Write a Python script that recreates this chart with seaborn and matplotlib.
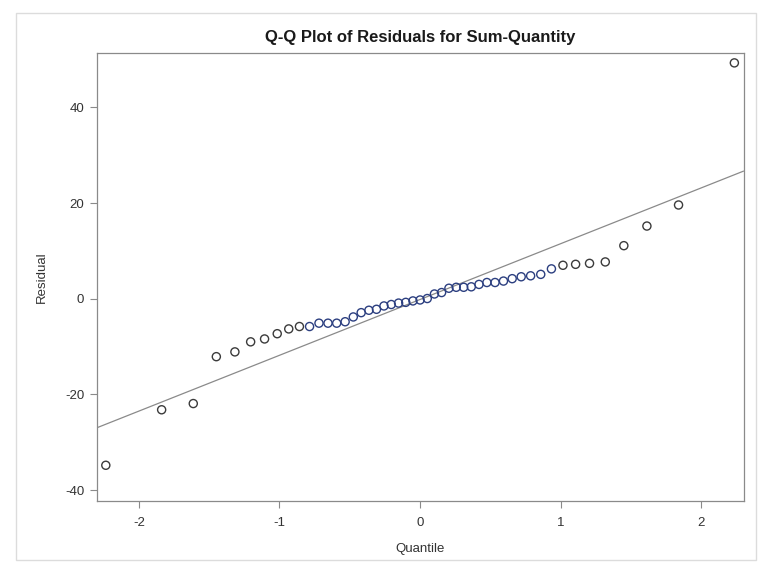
import numpy as np
import pandas as pd
import matplotlib
matplotlib.use("Agg")
import matplotlib.pyplot as plt
import seaborn as sns

# Normal quantiles (Blom) for the 49 sorted residuals
quantiles = [-2.235, -1.838, -1.613, -1.449, -1.317, -1.205, -1.106, -1.016, -0.934, -0.858,
             -0.786, -0.719, -0.655, -0.593, -0.533, -0.475, -0.419, -0.364, -0.310, -0.257,
             -0.205, -0.153, -0.102, -0.051, 0.0, 0.051, 0.102, 0.153, 0.205, 0.257,
             0.310, 0.364, 0.419, 0.475, 0.533, 0.593, 0.655, 0.719, 0.786, 0.858,
             0.934, 1.016, 1.106, 1.205, 1.317, 1.449, 1.613, 1.838, 2.235]
residuals = [-34.8, -23.2, -21.9, -12.1, -11.1, -9.0, -8.4, -7.3, -6.3, -5.8,
             -5.8, -5.1, -5.1, -5.1, -4.8, -3.8, -2.9, -2.4, -2.2, -1.5,
             -1.2, -0.9, -0.75, -0.45, -0.25, 0.05, 1.0, 1.3, 2.2, 2.4,
             2.4, 2.5, 3.0, 3.4, 3.4, 3.7, 4.2, 4.6, 4.8, 5.1,
             6.25, 7.0, 7.2, 7.4, 7.7, 11.1, 15.2, 19.6, 49.3]
x_ticks = [-2, -1, 0, 1, 2]
y_ticks = [-40, -20, 0, 20, 40]

sns.set_theme(style="white")
plt.rcParams['font.family'] = ['Liberation Sans', 'DejaVu Sans']

df = pd.DataFrame({'Quantile': quantiles, 'Residual': residuals})
# the dense middle of the plot shows up blue in the original
mid = (df.index >= 10) & (df.index <= 40)

fig = plt.figure(figsize=(7.6, 5.66), dpi=100)
ax = fig.add_axes([0.1272, 0.1154, 0.8511, 0.7904])

# outer light border around the whole graph
fig.patches.append(plt.Rectangle((16 / 760, 6 / 566), 740 / 760, 547 / 566,
                                 transform=fig.transFigure, fill=False,
                                 edgecolor='#dcdcdc', linewidth=1.0))

# reference line: mean + std * quantile
mu = df['Residual'].mean()
sigma = df['Residual'].std()
ax.axline((0, mu), slope=sigma, color='#8a8a8a', linewidth=0.9, zorder=1)

sns.scatterplot(data=df[~mid], x='Quantile', y='Residual', ax=ax, marker='o', s=34,
                facecolors='none', edgecolor='#3b3b3b', linewidth=1.0, zorder=3)
sns.scatterplot(data=df[mid], x='Quantile', y='Residual', ax=ax, marker='o', s=34,
                facecolors='none', edgecolor='#2c3f80', linewidth=1.0, zorder=3)

ax.set_xlim(-2.3, 2.3)
ax.set_ylim(-42.2, 51.3)
ax.set_xticks(x_ticks)
ax.set_yticks(y_ticks)
ax.set_xticklabels([str(t) for t in x_ticks])
ax.set_yticklabels([str(t) for t in y_ticks])
ax.tick_params(direction='out', length=5, width=0.8, color='#8a8a8a',
               labelsize=9.5, labelcolor='#333333', pad=4, bottom=True, left=True)
ax.tick_params(axis='x', pad=7)
for sp in ax.spines.values():
    sp.set_color('#8a8a8a')
    sp.set_linewidth(0.9)

ax.set_xlabel('Quantile', fontsize=9.5, color='#333333', labelpad=10)
ax.set_ylabel('Residual', fontsize=9.5, color='#333333', labelpad=12)
ax.set_title('Q-Q Plot of Residuals for Sum-Quantity', fontsize=12,
             fontweight='bold', color='#1a1a1a', pad=8)

fig.savefig('out.png', dpi=100)
